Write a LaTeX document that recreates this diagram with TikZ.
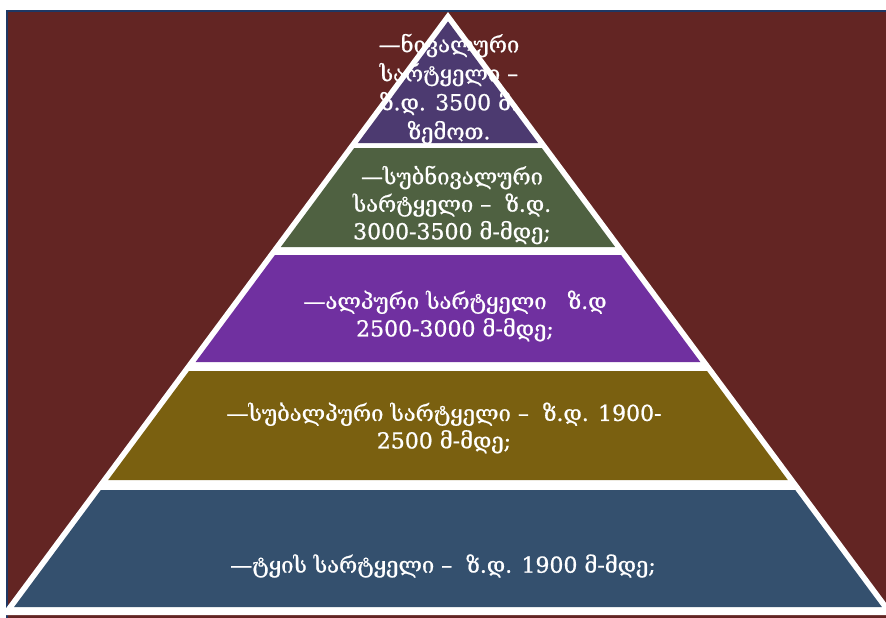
\documentclass[tikz,border=0pt]{standalone}
\usepackage{fontspec}
\setmainfont{DejaVu Serif}
\newfontfamily\tierfont[FakeBold=0.8]{DejaVu Serif}
\definecolor{bgred}{RGB}{99,37,35}
\definecolor{frameblue}{RGB}{31,56,100}
\definecolor{tierA}{RGB}{76,58,112}
\definecolor{tierB}{RGB}{79,97,65}
\definecolor{tierC}{RGB}{112,48,160}
\definecolor{tierD}{RGB}{122,96,16}
\definecolor{tierE}{RGB}{52,80,110}
\begin{document}
\begin{tikzpicture}[x=1pt,y=-1pt,
  lbl/.style={text=white, align=center, inner sep=0pt,
    font=\tierfont\fontsize{22}{27.5}\selectfont}]
\useasboundingbox (0,0) rectangle (886,618);
\fill[white] (0,0) rectangle (886,618);
% panel background with its framed top and left edges
\fill[bgred] (7,11) rectangle (886,618);
\draw[frameblue, line width=2] (7,618) -- (7,11) -- (886,11);
% white body of the pyramid
\fill[white] (448,12) -- (895,615) -- (1,615) -- cycle;
% coloured tiers, inset from the white outline
\foreach \t/\b/\c in {21.4/143/tierA, 148/247/tierB, 255/362/tierC,
                      371/480/tierD, 490/607/tierE} {
  \pgfmathsetmacro\lt{455-0.741*(\t-12)}
  \pgfmathsetmacro\lb{455-0.741*(\b-12)}
  \fill[\c] (\lt,\t) -- (896-\lt,\t) -- (896-\lb,\b) -- (\lb,\b) -- cycle;
}
% tier labels
\node[lbl, font=\tierfont\fontsize{22}{29}\selectfont] (t1) at (449,89)
  {—ნივალური\\სარტყელი –\\ზ.დ. 3500 მ.\\ზემოთ.};
\node[lbl] (t2) at (452,205) {—სუბნივალური\\სარტყელი –\ \ ზ.დ.\\3000-3500 მ-მდე;};
\node[lbl] (t3) at (455,316) {—ალპური სარტყელი\ \ \ ზ.დ\\2500-3000 მ-მდე;};
\node[lbl] (t4) at (444,428) {—სუბალპური სარტყელი –\ \ ზ.დ. 1900-\\2500 მ-მდე;};
\node[lbl] (t5) at (443,566) {—ტყის სარტყელი –\ \ ზ.დ. 1900 მ-მდე;};
\end{tikzpicture}
\end{document}
